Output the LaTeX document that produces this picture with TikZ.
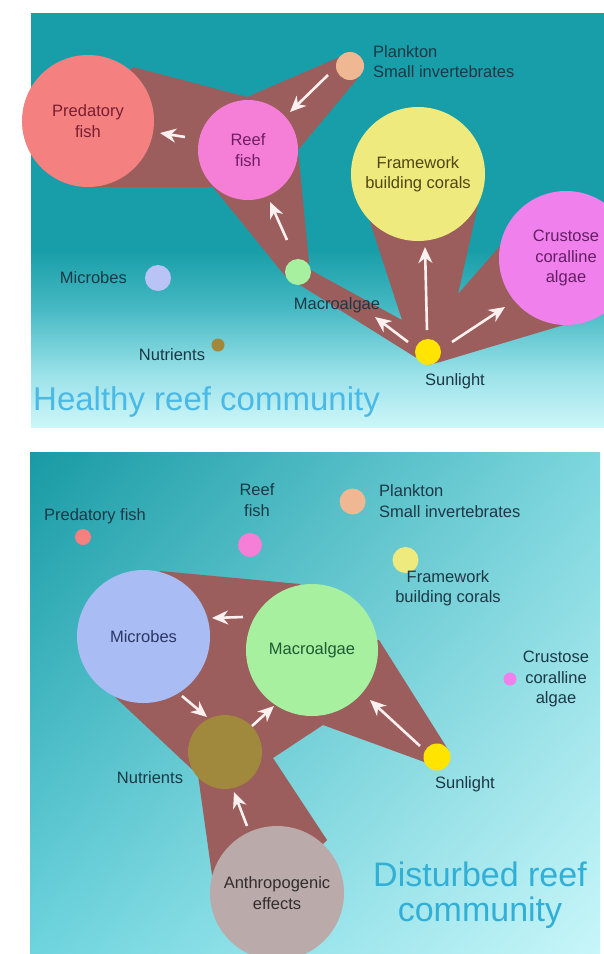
\documentclass[tikz,border=0pt]{standalone}
\usepackage{fontspec}
\setmainfont{Liberation Sans}
\usetikzlibrary{arrows.meta,shadings}
\definecolor{tealtop}{RGB}{24,158,168}
\definecolor{tealA}{RGB}{72,186,196}
\definecolor{tealB}{RGB}{150,224,231}
\definecolor{tealC}{RGB}{205,246,249}
\definecolor{bUL}{RGB}{24,154,164}
\definecolor{bUR}{RGB}{125,214,222}
\definecolor{bLL}{RGB}{110,212,222}
\definecolor{bLR}{RGB}{200,246,249}
\definecolor{bandc}{RGB}{155,94,92}
\definecolor{arrowc}{RGB}{255,240,240}
\definecolor{pfc}{RGB}{245,128,128}
\definecolor{rfc}{RGB}{245,126,214}
\definecolor{plc}{RGB}{240,184,146}
\definecolor{fwc}{RGB}{238,234,126}
\definecolor{crc}{RGB}{240,128,236}
\definecolor{mac}{RGB}{166,240,160}
\definecolor{mic}{RGB}{170,188,244}
\definecolor{micsmall}{RGB}{185,195,245}
\definecolor{nuc}{RGB}{160,136,60}
\definecolor{suc}{RGB}{255,228,0}
\definecolor{anc}{RGB}{186,170,170}
\definecolor{labc}{RGB}{28,56,70}
\definecolor{titc}{RGB}{75,185,230}
\definecolor{titd}{RGB}{50,175,215}
\definecolor{pftx}{RGB}{120,30,50}
\definecolor{rftx}{RGB}{110,30,100}
\definecolor{fwtx}{RGB}{80,70,20}
\definecolor{crtx}{RGB}{100,30,100}
\definecolor{mitx}{RGB}{40,55,100}
\definecolor{matx}{RGB}{30,90,50}
\definecolor{antx}{RGB}{50,45,45}
\newcommand\labfont{\fontsize{16.5}{20.5}\selectfont}
\begin{document}
\begin{tikzpicture}[x=1pt,y=-1pt,
  circ/.style={circle, inner sep=0pt, draw=none, align=center, font=\labfont},
  lbl/.style={inner sep=0pt, text=labc, align=center, font=\labfont},
  band/.style={fill=bandc},
  arr/.style={draw=arrowc, line width=2.6pt, -{Stealth[length=16pt,width=14pt,inset=5pt]}}]
\useasboundingbox (0,0) rectangle (604,954);
\fill[white] (0,0) rectangle (604,954);
% ---------- top panel background
\fill[tealtop] (31,13) rectangle (604,251);
\shade[top color=tealtop, bottom color=tealA] (31,250) rectangle (604,311);
\shade[top color=tealA, bottom color=tealB] (31,310) rectangle (604,371);
\shade[top color=tealB, bottom color=tealC] (31,370) rectangle (604,427);
% ---------- bottom panel background
\shade[upper left=bUL, upper right=bUR, lower left=bLL, lower right=bLR] (30,452) rectangle (600,954);

% ---------- top bands
\fill[band] (133,67) -- (247,97) -- (342,56) -- (358,78) -- (298,150) -- (309,262)
  -- (307,268) -- (402,320) -- (370,222) -- (478,205) -- (458,294) -- (500,246)
  -- (567,324) -- (440,362) -- (428,365) -- (415,357) -- (300,285) -- (286,277)
  -- (213,187) -- (90,187) -- (88,121) -- cycle;
% ---------- bottom bands
\fill[band] (160,571) -- (300,584) -- (312,650) -- (379,640) -- (449,751) -- (437,770)
  -- (427,763) -- (323,725) -- (273,758) -- (327,840) -- (277,893) -- (212,875)
  -- (198,775) -- (115,697) -- (143,636) -- cycle;

% ---------- top circles
\node[circ, fill=pfc, minimum size=132pt, text=pftx] (tPF) at (88,121) {Predatory\\fish};
\node[circ, fill=rfc, minimum size=100pt, text=rftx] (tRF) at (248,150) {Reef\\fish};
\node[circ, fill=plc, minimum size=28pt] (tPL) at (350,66) {};
\node[circ, fill=fwc, minimum size=134pt, text=fwtx] (tFW) at (418,174) {Framework\\building corals};
\node[circ, fill=crc, minimum size=134pt, text=crtx] (tCR) at (566,258) {Crustose\\coralline\\algae};
\node[circ, fill=mac, minimum size=26pt] (tMA) at (298,272) {};
\node[circ, fill=micsmall, minimum size=26pt] (tMI) at (158,278) {};
\node[circ, fill=nuc, minimum size=13pt] (tNU) at (218,345) {};
\node[circ, fill=suc, minimum size=26pt] (tSU) at (428,352) {};

% ---------- bottom circles
\node[circ, fill=mic, minimum size=133pt, text=mitx] (bMI) at (143.5,636.5) {Microbes};
\node[circ, fill=mac, minimum size=132pt, text=matx] (bMA) at (312,650) {Macroalgae};
\node[circ, fill=nuc, minimum size=74pt] (bNU) at (225,752) {};
\node[circ, fill=suc, minimum size=27pt] (bSU) at (437,757) {};
\node[circ, fill=anc, minimum size=134pt, text=antx] (bAN) at (277,893) {Anthropogenic\\effects};
\node[circ, fill=pfc, minimum size=16pt] (bPF) at (83,537) {};
\node[circ, fill=rfc, minimum size=24pt] (bRF) at (250,545) {};
\node[circ, fill=plc, minimum size=26pt] (bPL) at (352.6,501.5) {};
\node[circ, fill=fwc, minimum size=26pt] (bFW) at (405.5,560) {};
\node[circ, fill=crc, minimum size=13pt] (bCR) at (510,679) {};

% ---------- top arrows
\coordinate (a1s) at (328,75);  \coordinate (a1e) at (290,112);
\coordinate (a2s) at (185,137); \coordinate (a2e) at (160,133);
\coordinate (a3s) at (287,240); \coordinate (a3e) at (270,202);
\coordinate (a4s) at (408,342); \coordinate (a4e) at (375,317);
\coordinate (a5s) at (427,330); \coordinate (a5e) at (425,247);
\coordinate (a6s) at (452,342); \coordinate (a6e) at (505,307);
\draw[arr] (a1s) -- (a1e);
\draw[arr] (a2s) -- (a2e);
\draw[arr] (a3s) -- (a3e);
\draw[arr] (a4s) -- (a4e);
\draw[arr] (a5s) -- (a5e);
\draw[arr] (a6s) -- (a6e);
% ---------- bottom arrows
\coordinate (b1s) at (243,617); \coordinate (b1e) at (212,618);
\coordinate (b2s) at (182,696); \coordinate (b2e) at (207,717);
\coordinate (b3s) at (252,726); \coordinate (b3e) at (274,706);
\coordinate (b4s) at (420,746); \coordinate (b4e) at (370,700);
\coordinate (b5s) at (247,826); \coordinate (b5e) at (234,792);
\draw[arr] (b1s) -- (b1e);
\draw[arr] (b2s) -- (b2e);
\draw[arr] (b3s) -- (b3e);
\draw[arr] (b4s) -- (b4e);
\draw[arr] (b5s) -- (b5e);

% ---------- top labels
\node[lbl, anchor=west, align=left] (tPLl) at (373,61.5) {Plankton\\Small invertebrates};
\node[lbl, anchor=east] (tMIl) at (127,278) {Microbes};
\node[lbl] (tNUl) at (172,355) {Nutrients};
\node[lbl] (tMAl) at (337,305) {Macroalgae};
\node[lbl] (tSUl) at (455,381) {Sunlight};
\node[anchor=base west, inner sep=0pt, text=titc, font=\fontsize{33}{36}\selectfont] (tTitle) at (33,410) {Healthy reef community};

% ---------- bottom labels
\node[lbl] (bPFl) at (95,516) {Predatory fish};
\node[lbl] (bRFl) at (257,500) {Reef\\fish};
\node[lbl, anchor=west, align=left] (bPLl) at (379,501) {Plankton\\Small invertebrates};
\node[lbl] (bFWl) at (448,588) {Framework\\building corals};
\node[lbl] (bCRl) at (556,679) {Crustose\\coralline\\algae};
\node[lbl] (bNUl) at (150,778) {Nutrients};
\node[lbl] (bSUl) at (465,784) {Sunlight};
\node[align=center, inner sep=0pt, text=titd, font=\fontsize{34}{35}\selectfont] (bTitle) at (480,895) {Disturbed reef\\community};
\end{tikzpicture}
\end{document}
